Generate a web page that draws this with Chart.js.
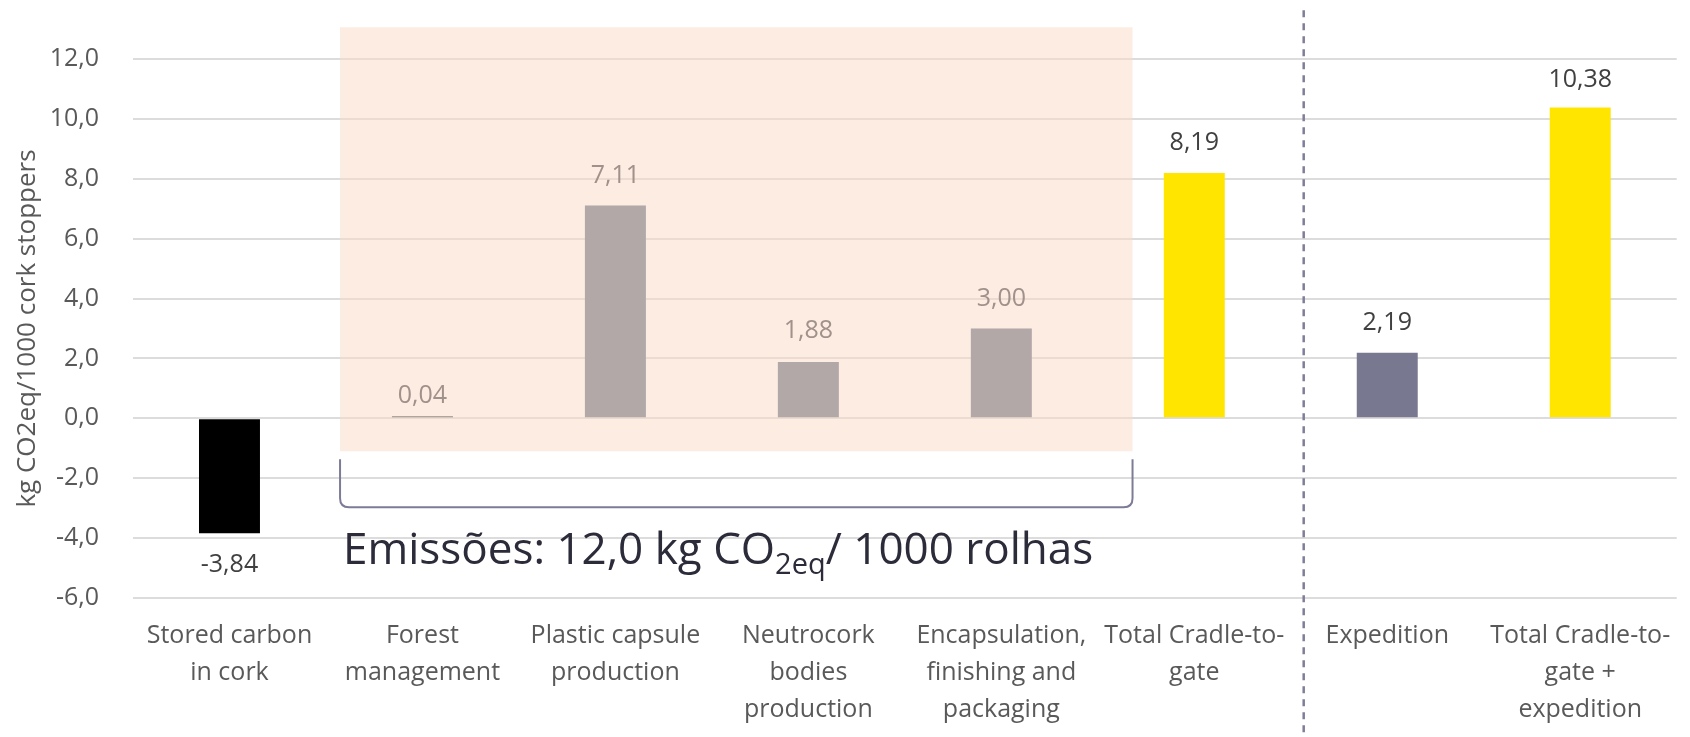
<!DOCTYPE html>
<html lang="en">
<head>
<meta charset="UTF-8">
<title>Carbon footprint - cork stoppers</title>
<script src="https://cdn.jsdelivr.net/npm/chart.js"></script>
<style>
  html, body { margin: 0; padding: 0; background: #fff; }
  #chart { display: block; }
</style>
</head>
<body>
<canvas id="chart" width="1690" height="737"></canvas>
<script>
// data
const categories = [
  ['Stored carbon', 'in cork'],
  ['Forest', 'management'],
  ['Plastic capsule', 'production'],
  ['Neutrocork', 'bodies', 'production'],
  ['Encapsulation,', 'finishing and', 'packaging'],
  ['Total Cradle-to-', 'gate'],
  ['Expedition'],
  ['Total Cradle-to-', 'gate +', 'expedition']
];
const values = [-3.84, 0.04, 7.11, 1.88, 3.00, 8.19, 2.19, 10.38];
const yMin = -6, yMax = 12, yStep = 2;
const yTitle = 'kg CO2eq/1000 cork stoppers';
const emissionText = ['Emissões: 12,0 kg CO', '2eq', '/ 1000 rolhas'];

// styles
const barColors = ['#000000', '#988c86', '#b2a8a8', '#b2a8a8', '#b2a8a8', '#ffe500', '#787891', '#ffe500'];
const labelColors = ['#404040', '#a0918b', '#a0918b', '#a0918b', '#a0918b', '#404040', '#404040', '#404040'];
const labelGap = [32, 20, 30, 31, 30, 30, 30, 28];
const FONT = "'Open Sans', 'DejaVu Sans', sans-serif";

// overlay placement (category index / value units)
const box = { x0: 0.573, x1: 4.68, y0: -1.1, y1: 13.06 };
const bracket = { top: -1.37, bottom: -2.97 };
const dividerAt = 5.567, dividerTop = 13.63;
const emissionBaseline = -4.88;

const fmt = v => v.toFixed(2).replace('.', ',');

const overlays = {
  id: 'overlays',
  beforeDatasetsDraw(chart) {
    const { ctx } = chart;
    const xs = chart.scales.x, ys = chart.scales.y;
    const l = xs.getPixelForValue(box.x0), r = xs.getPixelForValue(box.x1);
    const t = ys.getPixelForValue(box.y1), b = ys.getPixelForValue(box.y0);
    ctx.save();
    // shaded group of emission stages
    ctx.fillStyle = 'rgba(250, 218, 196, 0.5)';
    ctx.fillRect(l, t, r - l, b - t);

    // bracket under the group
    const bt = ys.getPixelForValue(bracket.top), bb = ys.getPixelForValue(bracket.bottom);
    const rad = 9;
    ctx.strokeStyle = '#7c7c98';
    ctx.lineWidth = 2;
    ctx.beginPath();
    ctx.moveTo(l, bt);
    ctx.lineTo(l, bb - rad);
    ctx.quadraticCurveTo(l, bb, l + rad, bb);
    ctx.lineTo(r - rad, bb);
    ctx.quadraticCurveTo(r, bb, r, bb - rad);
    ctx.lineTo(r, bt);
    ctx.stroke();

    // dashed divider
    const dx = xs.getPixelForValue(dividerAt);
    ctx.strokeStyle = '#7e7e98';
    ctx.lineWidth = 2.5;
    ctx.setLineDash([7, 6]);
    ctx.beginPath();
    ctx.moveTo(dx, ys.getPixelForValue(dividerTop));
    ctx.lineTo(dx, chart.height);
    ctx.stroke();
    ctx.setLineDash([]);

    // emissions text with subscript
    const by = ys.getPixelForValue(emissionBaseline);
    let tx = l + 3;
    ctx.fillStyle = '#2b2b3a';
    ctx.textAlign = 'left';
    ctx.textBaseline = 'alphabetic';
    ctx.font = '500 44px ' + FONT;
    ctx.fillText(emissionText[0], tx, by);
    tx += ctx.measureText(emissionText[0]).width;
    ctx.font = '500 29px ' + FONT;
    ctx.fillText(emissionText[1], tx, by + 10);
    tx += ctx.measureText(emissionText[1]).width;
    ctx.font = '500 44px ' + FONT;
    ctx.fillText(emissionText[2], tx, by);
    ctx.restore();
  },
  afterDatasetsDraw(chart) {
    const { ctx } = chart;
    const meta = chart.getDatasetMeta(0);
    ctx.save();
    ctx.font = '25px ' + FONT;
    ctx.textAlign = 'center';
    ctx.textBaseline = 'middle';
    meta.data.forEach((bar, i) => {
      const v = values[i];
      ctx.fillStyle = labelColors[i];
      ctx.fillText(fmt(v), bar.x, v >= 0 ? bar.y - labelGap[i] : bar.y + labelGap[i]);
    });
    ctx.restore();
  }
};

new Chart(document.getElementById('chart'), {
  type: 'bar',
  data: {
    labels: categories,
    datasets: [{
      data: values,
      backgroundColor: barColors,
      categoryPercentage: 1,
      barPercentage: 0.316,
      minBarLength: 2
    }]
  },
  options: {
    responsive: false,
    animation: false,
    devicePixelRatio: 1,
    layout: { padding: { top: 59, right: 13, left: 0, bottom: 0 } },
    plugins: {
      legend: { display: false },
      tooltip: { enabled: false }
    },
    scales: {
      x: {
        grid: { display: false, drawTicks: false },
        border: { display: false },
        ticks: {
          color: '#595959',
          font: { family: FONT, size: 25, lineHeight: 1.48 },
          maxRotation: 0,
          autoSkip: false,
          padding: 19
        },
        afterFit(scale) { scale.height = 139; }
      },
      y: {
        min: yMin,
        max: yMax,
        grid: { color: '#dcdcdc', lineWidth: 2, drawTicks: false },
        border: { display: false },
        ticks: {
          stepSize: yStep,
          color: '#595959',
          font: { family: FONT, size: 25 },
          padding: 34,
          callback: v => v.toFixed(1).replace('.', ',')
        },
        title: {
          display: true,
          text: yTitle,
          color: '#595959',
          font: { family: FONT, size: 26 },
          padding: { top: 12, bottom: 0 }
        },
        afterFit(scale) { scale.width = 133; }
      }
    }
  },
  plugins: [overlays]
});
</script>
</body>
</html>
